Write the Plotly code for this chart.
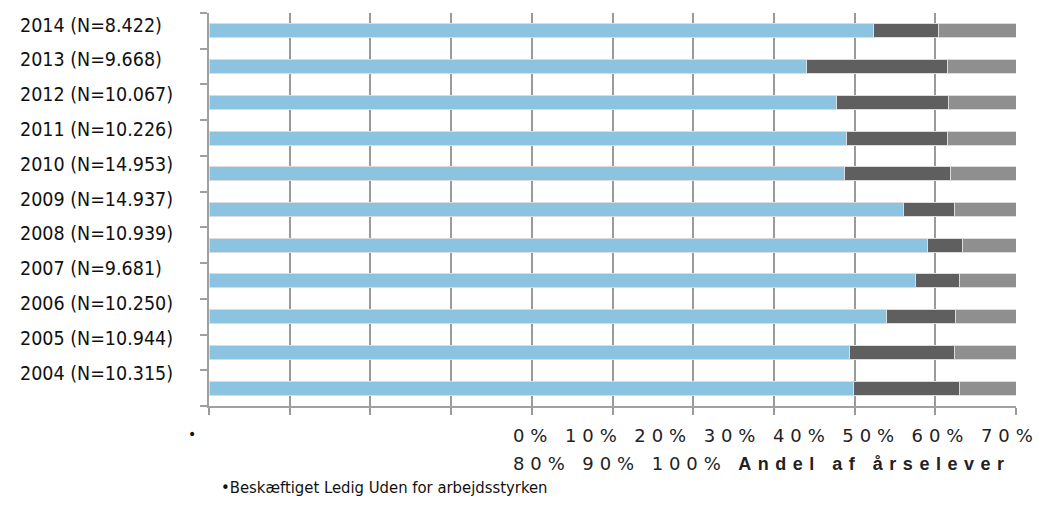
import plotly.graph_objects as go

# Share of year-students by labour market status, per year (percent)
years = ["2004", "2005", "2006", "2007", "2008", "2009", "2010", "2011", "2012", "2013", "2014"]
n_students = ["10.315", "10.944", "10.250", "9.681", "10.939", "14.937", "14.953", "10.226", "10.067", "9.668", "8.422"]
beskaeftiget = [79.9, 79.4, 84.0, 87.5, 89.0, 86.1, 78.8, 79.0, 77.7, 74.0, 82.3]
ledig = [13.1, 13.0, 8.5, 5.5, 4.4, 6.3, 13.1, 12.5, 13.9, 17.5, 8.1]
uden_for = [7.0, 7.6, 7.5, 7.0, 6.6, 7.6, 8.1, 8.5, 8.4, 8.5, 9.6]
x_ticks = [0, 10, 20, 30, 40, 50, 60, 70, 80, 90, 100]

series = [
    ("Beskæftiget", beskaeftiget, "#8CC3E1"),
    ("Ledig", ledig, "#5F5F5F"),
    ("Uden for arbejdsstyrken", uden_for, "#8F8F8F"),
]

W, H = 1039, 514
L, R, T, B = 209, 23, 13, 108
plot_w = W - L - R
plot_h = H - T - B


def px_x(x):
    return (x - L) / plot_w


def px_y(y):
    return (H - B - y) / plot_h


fig = go.Figure()
for name, vals, color in series:
    fig.add_trace(go.Bar(
        y=years, x=vals, name=name, orientation="h",
        marker=dict(color=color, line=dict(color="#DCDCDC", width=1)),
        hoverinfo="x+y+name",
    ))

# Category labels, left aligned in the margin (y given as category index)
label_font = dict(family="DejaVu Sans Condensed, DejaVu Sans", size=19.5, color="#111111")
annotations = []
for k, (yr, n) in enumerate(zip(years, n_students)):
    i = len(years) - 1 - k
    annotations.append(dict(
        x=px_x(18), xref="paper", xanchor="left",
        y=k, yref="y", yanchor="middle", yshift=5.8 + 0.92 * i,
        text=f"{yr} (N={n})", showarrow=False, font=label_font,
    ))

pct = [f"{v}%" for v in x_ticks]
line1 = " ".join(pct[:8])
line2 = " ".join(pct[8:]) + " "
pct_font = dict(family="DejaVu Sans", size=18, color="#222222")

annotations += [
    dict(x=px_x(186), y=px_y(434), xref="paper", yref="paper", xanchor="left", yanchor="middle",
         text="•", showarrow=False, font=dict(family="DejaVu Sans", size=14, color="#111111")),
    dict(x=px_x(511), y=px_y(436), xref="paper", yref="paper", xanchor="left", yanchor="middle",
         text=f'<span style="letter-spacing:5.9px">{line1}</span>', showarrow=False, font=pct_font),
    dict(x=px_x(511), y=px_y(464), xref="paper", yref="paper", xanchor="left", yanchor="middle",
         text=(f'<span style="letter-spacing:5.9px">{line2}</span>'
               '<span style="font-family:Liberation Sans;letter-spacing:6.5px"><b>Andel af årselever</b></span>'),
         showarrow=False, font=pct_font),
    dict(x=px_x(219), y=px_y(487), xref="paper", yref="paper", xanchor="left", yanchor="middle",
         text="•" + " ".join(s[0] for s in series), showarrow=False,
         font=dict(family="DejaVu Sans Condensed, DejaVu Sans", size=16.5, color="#111111")),
]

fig.update_layout(
    barmode="stack",
    bargap=0.61,
    width=W, height=H,
    margin=dict(l=L, r=R, t=T, b=B),
    paper_bgcolor="white",
    plot_bgcolor="white",
    showlegend=False,
    annotations=annotations,
    xaxis=dict(
        range=[0, 100], tickvals=x_ticks, showticklabels=False,
        showgrid=True, gridcolor="#9A9A9A", gridwidth=1.5,
        ticks="outside", ticklen=7, tickcolor="#9A9A9A", tickwidth=1.5,
        showline=True, linecolor="#A0A0A0", linewidth=1.5, zeroline=False,
    ),
    yaxis=dict(
        type="category", categoryarray=years, range=[-0.5, len(years) - 0.5],
        showticklabels=False, showgrid=False,
        ticks="outside", tickson="boundaries", ticklen=7, tickcolor="#A0A0A0", tickwidth=1.5,
        showline=True, linecolor="#A0A0A0", linewidth=1.5,
    ),
)

fig.write_html("out.html")
